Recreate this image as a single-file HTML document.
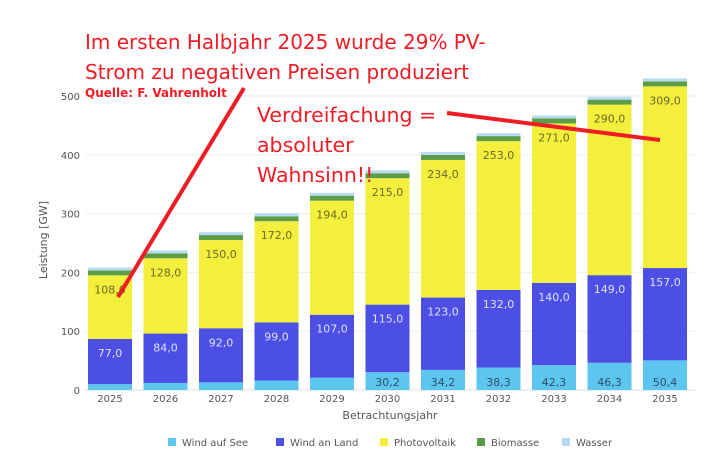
<!DOCTYPE html>
<html><head><meta charset="utf-8"><style>
body{margin:0;background:#fff;font-family:"DejaVu Sans",sans-serif}
svg{display:block;font-family:"DejaVu Sans",sans-serif}
</style></head><body>
<svg id="c" width="715" height="474">
<g id="grid"></g><g id="bars"></g><g id="lbls"></g>
<text x="390" y="419" font-size="11" fill="#555" text-anchor="middle">Betrachtungsjahr</text>
<text transform="translate(47,240) rotate(-90)" font-size="11" fill="#555" text-anchor="middle">Leistung [GW]</text>
<g id="legend"></g>
<line x1="118" y1="297" x2="244" y2="88" stroke="#ee1c25" stroke-width="4"/>
<line x1="447" y1="113" x2="660" y2="140" stroke="#ee1c25" stroke-width="4"/>
<text x="85" y="49" font-size="20" fill="#ee1c25">Im ersten Halbjahr 2025 wurde 29% PV-</text>
<text x="85" y="79" font-size="20" fill="#ee1c25">Strom zu negativen Preisen produziert</text>
<text x="85" y="97" font-size="12" font-weight="bold" fill="#ee1c25">Quelle: F. Vahrenholt</text>
<text x="257" y="122" font-size="20.5" fill="#ee1c25">Verdreifachung =</text>
<text x="257" y="152" font-size="20.5" fill="#ee1c25">absoluter</text>
<text x="257" y="182" font-size="20.5" fill="#ee1c25">Wahnsinn!!</text>
</svg>
<script>
const years=["2025","2026","2027","2028","2029","2030","2031","2032","2033","2034","2035"];
const windSee=[10,12,13,16,21,30.2,34.2,38.3,42.3,46.3,50.4];
const windLand=[77,84,92,99,107,115,123,132,140,149,157];
const pv=[108,128,150,172,194,215,234,253,271,290,309];
const bio=[8.5,8.5,8.5,8.5,8.5,8.5,8.5,8.5,8.5,8.5,8.5];
const wasser=[5,5,5,5,5,5,5,5,5,5,5];
const yTicks=[0,100,200,300,400,500];
const seriesNames=["Wind auf See","Wind an Land","Photovoltaik","Biomasse","Wasser"];
const colors=["#5cc6ee","#4b4fe3","#f4ee3c","#5c9e48","#b9dcf2"];
const NS="http://www.w3.org/2000/svg";
const y=v=>390-v*0.588;
const x=i=>110+i*55.5;
const BW=44;
function mk(t,a,p){const e=document.createElementNS(NS,t);for(const k in a)e.setAttribute(k,a[k]);p.appendChild(e);return e;}
const grid=document.getElementById('grid');
yTicks.forEach(t=>{
 const l=mk('line',{x1:85,x2:695,y1:y(t),y2:y(t),stroke:t?"#eee":"#ddd"},grid);
 
 
 const tx=mk('text',{x:80,y:y(t)+4,'font-size':10,fill:'#555','text-anchor':'end'},grid);tx.textContent=t;
 
 
});
const bars=document.getElementById('bars'),lbls=document.getElementById('lbls');
const series=[windSee,windLand,pv,bio,wasser];
years.forEach((yr,i)=>{
 let base=0;
 series.forEach((s,k)=>{
  const v=s[i];
  const r=mk('rect',{x:x(i)-BW/2,y:y(base+v),width:BW,height:v*0.588,fill:colors[k]},bars);
  
  
  if(k===1||k===2||(k===0&&i>=5)){
   const t=mk('text',{x:x(i),y:y(base+v)+(k===0?y(0)-y(v)-4:18),'font-size':11,'text-anchor':'middle',fill:k===2?'#6b6a2c':(k===1?'#dfe0ff':'#2f4f6a')},lbls);
   t.textContent=v.toFixed(1).replace('.',',');
   
   
  }
  base+=v;
 });
 const t=mk('text',{x:x(i),y:402,'font-size':10,fill:'#555','text-anchor':'middle'},lbls);t.textContent=yr;
 
 
});
const lg=document.getElementById('legend');
const lx=[168,276,380,477,562];
seriesNames.forEach((n,k)=>{
 const r=mk('rect',{x:lx[k],y:438,width:8,height:8,fill:colors[k]},lg);
 
 
 const t=mk('text',{x:lx[k]+14,y:446,'font-size':10,fill:'#555'},lg);t.textContent=n;
 
 
});
</script>
</body></html>
